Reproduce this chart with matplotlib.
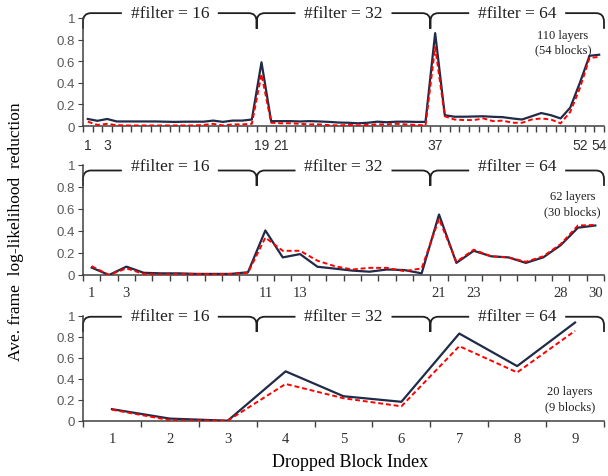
import numpy as np
import matplotlib
matplotlib.use("Agg")
import matplotlib.pyplot as plt
from matplotlib.path import Path
from matplotlib.patches import PathPatch

# Panel 1: 110 layers (54 blocks)
blue_54 = [0.065, 0.048, 0.065, 0.042, 0.042, 0.042, 0.042, 0.042, 0.040, 0.038,
           0.040, 0.040, 0.040, 0.050, 0.038, 0.050, 0.050, 0.060, 0.590, 0.045,
           0.045, 0.045, 0.042, 0.045, 0.042, 0.038, 0.032, 0.030, 0.025, 0.030,
           0.040, 0.035, 0.040, 0.040, 0.038, 0.038, 0.860, 0.100, 0.086, 0.086,
           0.088, 0.090, 0.085, 0.082, 0.070, 0.060, 0.090, 0.120, 0.100, 0.070,
           0.170, 0.400, 0.650, 0.660]
red_54 = [0.040, 0.010, 0.020, 0.008, 0.005, 0.005, 0.005, 0.005, 0.005, 0.005,
          0.005, 0.005, 0.010, 0.020, 0.005, 0.015, 0.015, 0.020, 0.480, 0.030,
          0.025, 0.025, 0.020, 0.015, 0.015, 0.008, 0.005, 0.010, 0.005, 0.010,
          0.015, 0.015, 0.020, 0.015, 0.010, 0.005, 0.730, 0.090, 0.060, 0.055,
          0.055, 0.070, 0.045, 0.050, 0.030, 0.030, 0.060, 0.070, 0.060, 0.025,
          0.130, 0.350, 0.630, 0.640]
ticks_54 = [1, 3, 19, 21, 37, 52, 54]

# Panel 2: 62 layers (30 blocks)
blue_30 = [0.067, 0.000, 0.076, 0.020, 0.015, 0.015, 0.010, 0.010, 0.010, 0.025,
           0.405, 0.160, 0.190, 0.075, 0.058, 0.040, 0.030, 0.050, 0.045, 0.015,
           0.550, 0.110, 0.220, 0.170, 0.160, 0.110, 0.160, 0.270, 0.430, 0.450]
red_30 = [0.080, 0.000, 0.060, 0.010, 0.005, 0.010, 0.010, 0.005, 0.010, 0.020,
          0.340, 0.220, 0.220, 0.130, 0.080, 0.050, 0.065, 0.065, 0.035, 0.060,
          0.510, 0.120, 0.230, 0.170, 0.160, 0.120, 0.170, 0.280, 0.450, 0.455]
ticks_30 = [1, 3, 11, 13, 21, 23, 28, 30]

# Panel 3: 20 layers (9 blocks)
blue_9 = [0.110, 0.020, 0.000, 0.470, 0.233, 0.180, 0.830, 0.520, 0.935]
red_9 = [0.105, 0.005, 0.000, 0.350, 0.214, 0.137, 0.710, 0.460, 0.856]
ticks_9 = [1, 2, 3, 4, 5, 6, 7, 8, 9]

groups = ["#filter = 16", "#filter = 32", "#filter = 64"]
notes = ["110 layers\n(54 blocks)", "62 layers\n(30 blocks)", "20 layers\n(9 blocks)"]

serif = "Liberation Serif"
sans = "Liberation Sans"
navy = "#1f2b47"
axcol = "#404040"

fig = plt.figure(figsize=(6.08, 4.77), dpi=100)
L, W = 83 / 608, 521 / 608
boxes = [
    (L, (477 - 127) / 477, W, 108 / 477),
    (L, (477 - 276) / 477, W, 110 / 477),
    (L, (477 - 421.7) / 477, W, 105 / 477),
]


def brace(ax, n, ytop, ybot):
    # curly bracket over three equal groups, broken where the labels sit
    u = n / 521  # data units per pixel
    rx = 8 * u
    gap = 48 * u
    ry = (ytop - ybot) * 0.55
    b = [0.5, 0.5 + n / 3, 0.5 + 2 * n / 3, n + 0.5]
    verts = [(b[0], ybot), (b[0], ytop - ry), (b[0], ytop), (b[0] + rx, ytop)]
    codes = [Path.MOVETO, Path.LINETO, Path.CURVE3, Path.CURVE3]
    for g in range(3):
        mid = (b[g] + b[g + 1]) / 2
        c = b[g + 1]
        verts += [(mid - gap, ytop), (mid + gap, ytop), (c - rx, ytop),
                  (c, ytop), (c, ytop - ry), (c, ybot)]
        codes += [Path.LINETO, Path.MOVETO, Path.LINETO,
                  Path.CURVE3, Path.CURVE3, Path.LINETO]
        if g < 2:
            verts += [(c, ytop - ry), (c, ytop), (c + rx, ytop)]
            codes += [Path.LINETO, Path.CURVE3, Path.CURVE3]
    ax.add_patch(PathPatch(Path(verts, codes), fill=False, lw=1.3,
                           edgecolor="#202020", clip_on=False))
    return b


panels = [
    (blue_54, red_54, ticks_54, 1.045, 0.90, 1.045, sans, (0.921, 0.775)),
    (blue_30, red_30, ticks_30, 0.95, 0.81, 0.99, serif, (0.94, 0.65)),
    (blue_9, red_9, ticks_9, 0.99, 0.845, 1.0, serif, (0.935, 0.21)),
]

for i, (blue, red, ticks, ytop, ybot, ytxt, xfont, npos) in enumerate(panels):
    ax = fig.add_axes(boxes[i])
    n = len(blue)
    x = np.arange(1, n + 1)
    ax.plot(x, blue, color=navy, lw=1.6, zorder=3)
    ax.plot(x, red, color="#ff0000", lw=1.4, ls=(0, (2.5, 1.5)), zorder=4)
    ax.set_xlim(0.5, n + 0.5)
    ax.set_ylim(0, 1)
    for s in ["top", "right"]:
        ax.spines[s].set_visible(False)
    for s in ["left", "bottom"]:
        ax.spines[s].set_color(axcol)
        ax.spines[s].set_linewidth(1.1)
    ax.set_yticks([0, 0.2, 0.4, 0.6, 0.8, 1])
    ax.set_yticklabels(["0", "0.2", "0.4", "0.6", "0.8", "1"],
                       fontfamily=sans, fontsize=9.5, color="#595959")
    ax.tick_params(axis="y", direction="out", length=3.5, color=axcol, pad=2)
    ax.set_xticks(ticks)
    ax.set_xticklabels([str(t) for t in ticks], fontfamily=xfont,
                       fontsize=10 if xfont == sans else 10.5, color="#303030")
    ax.set_xticks(np.arange(0.5, n + 1), minor=True)
    ax.tick_params(axis="x", which="major", length=0, pad=9 if i == 0 else 8)
    ax.tick_params(axis="x", which="minor", direction="out", length=4,
                   color=axcol, width=1.0)
    b = brace(ax, n, ytop, ybot)
    for g in range(3):
        ax.text((b[g] + b[g + 1]) / 2, ytxt, groups[g], ha="center",
                va="center", fontfamily=serif, fontsize=12.5, color="#202020",
                clip_on=False, zorder=5)
    ax.text(npos[0], npos[1], notes[i], transform=ax.transAxes, ha="center",
            va="center", fontfamily=serif, fontsize=9, color="#202020",
            linespacing=1.3)

fig.text(0.026, 0.515, "Ave. frame  log-likelihood  reduction", rotation=90,
         ha="center", va="center", fontfamily=serif, fontsize=12.5)
fig.text(0.576, 0.031, "Dropped Block Index", ha="center", va="center",
         fontfamily=serif, fontsize=13)

fig.savefig("out.png", dpi=100)
